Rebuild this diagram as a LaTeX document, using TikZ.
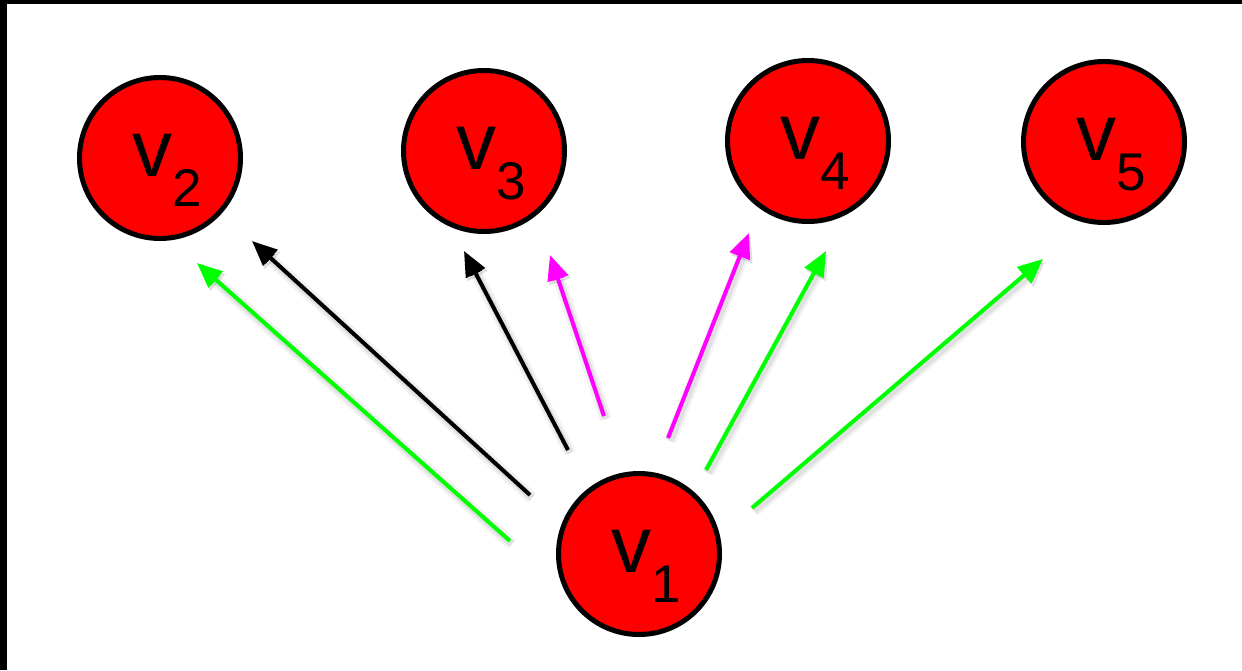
\documentclass[tikz,border=0pt]{standalone}
\usepackage{fontspec}
\setmainfont{Liberation Sans}
\usetikzlibrary{arrows.meta}
\definecolor{vred}{RGB}{255,0,0}
\definecolor{vgreen}{RGB}{0,255,0}
\definecolor{vmag}{RGB}{255,0,255}
\newcommand{\vlab}[1]{\fontsize{80}{80}\selectfont v\raisebox{-30pt}{\fontsize{53}{53}\selectfont #1}}
\tikzset{
  vert/.style={circle, draw=black, fill=vred, line width=5pt, minimum size=161pt, inner sep=0pt},
  vtext/.style={anchor=base west, inner sep=0pt, text=black},
  arr/.style={line width=4pt, -{Triangle[length=25pt,width=21pt]},
    preaction={draw=black, draw opacity=0.05, line width=12pt, transform canvas={shift={(2pt,-3pt)}}},
    preaction={draw=black, draw opacity=0.07, line width=7pt, transform canvas={shift={(2pt,-3pt)}}}},
  ga/.style={arr, draw=vgreen, -{Triangle[length=25pt,width=21pt,fill=vgreen]}},
  ba/.style={arr, draw=black},
  ma/.style={arr, draw=vmag, -{Triangle[length=25pt,width=21pt,fill=vmag]}}
}
\begin{document}
\begin{tikzpicture}[x=1pt,y=1pt]
\useasboundingbox (0,0) rectangle (1242,-670);
\fill[white] (0,0) rectangle (1242,-670);
\fill[black] (0,0) rectangle (1242,-4);
\fill[black] (0,0) rectangle (7,-670);

\node[vert] (v2) at (160,-158) {};
\node[vert] (v3) at (484,-151) {};
\node[vert] (v4) at (808,-141) {};
\node[vert] (v5) at (1104,-142) {};
\node[vert] (v1) at (639,-554) {};

\node[vtext] (t2) at ([shift={(-28,-18)}]v2.center) {\vlab{2}};
\node[vtext] (t3) at ([shift={(-28,-18)}]v3.center) {\vlab{3}};
\node[vtext] (t4) at ([shift={(-28,-18)}]v4.center) {\vlab{4}};
\node[vtext] (t5) at ([shift={(-28,-18)}]v5.center) {\vlab{5}};
\node[vtext] (t1) at ([shift={(-28,-18)}]v1.center) {\vlab{1}};

\coordinate (g1s) at (510,-541);  \coordinate (g1e) at (197,-263);
\coordinate (b1s) at (530,-495);  \coordinate (b1e) at (252,-241);
\coordinate (b2s) at (568,-450);  \coordinate (b2e) at (464,-251);
\coordinate (m1s) at (604,-416);  \coordinate (m1e) at (550,-255);
\coordinate (m2s) at (668,-438);  \coordinate (m2e) at (749,-233);
\coordinate (g2s) at (706,-470);  \coordinate (g2e) at (826,-251);
\coordinate (g3s) at (752,-508);  \coordinate (g3e) at (1043,-259);

\draw[ga] (g1s) -- (g1e);
\draw[ba] (b1s) -- (b1e);
\draw[ba] (b2s) -- (b2e);
\draw[ma] (m1s) -- (m1e);
\draw[ma] (m2s) -- (m2e);
\draw[ga] (g2s) -- (g2e);
\draw[ga] (g3s) -- (g3e);
\end{tikzpicture}
\end{document}
